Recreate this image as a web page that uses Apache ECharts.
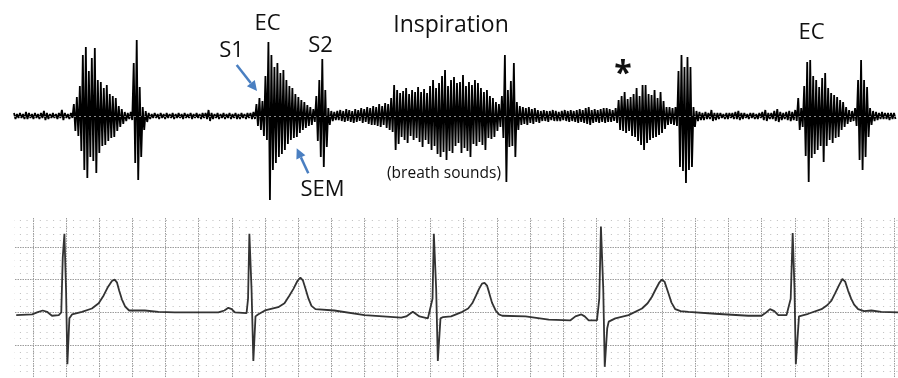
<!DOCTYPE html>
<html>
<head>
<meta charset="utf-8">
<title>Phonocardiogram and ECG</title>
<script src="https://cdn.jsdelivr.net/npm/echarts@6/dist/echarts.min.js"></script>
<style>
  html, body { margin: 0; padding: 0; background: #fff; }
  #chart { width: 898px; height: 378px; }
</style>
</head>
<body>
<div id="chart"></div>
<script>
// phonocardiogram, one sample every ~3px: peak above and below the baseline
const pcgUp = [
  3, 2, 3, 2, 4, 3, 2, 3, 2, 3, 5, 3, 2, 3, 2, 3, 6, 3, 2, 3,
  12, 19, 30, 61, 69, 45, 58, 68, 36, 34, 28, 31, 22, 20, 18, 10, 7, 4, 3, 4,
  53, 76, 29, 9, 5, 3, 2, 3, 2, 3, 2, 3, 2, 3, 2, 3, 2, 3, 2, 3,
  2, 3, 2, 3, 3, 6, 3, 2, 3, 2, 3, 2, 3, 2, 3, 2, 3, 2, 3, 3,
  4, 12, 18, 15, 40, 74, 61, 49, 53, 43, 46, 36, 30, 28, 22, 19, 16, 14, 11, 9,
  7, 20, 36, 57, 26, 8, 5, 4, 5, 6, 5, 7, 6, 5, 7, 6, 8, 7, 9, 8,
  10, 9, 12, 10, 13, 12, 18, 31, 26, 23, 25, 28, 22, 26, 24, 29, 24, 27, 23, 30,
  36, 28, 33, 40, 46, 30, 36, 39, 33, 34, 41, 30, 34, 31, 36, 33, 28, 24, 26, 20,
  18, 14, 12, 20, 61, 26, 35, 53, 14, 10, 9, 8, 9, 7, 8, 6, 5, 6, 5, 5,
  6, 5, 4, 5, 6, 5, 6, 5, 6, 7, 6, 8, 9, 6, 7, 6, 7, 8, 8, 7,
  6, 8, 16, 20, 24, 17, 19, 22, 28, 20, 31, 31, 22, 21, 26, 18, 24, 15, 9, 9,
  8, 9, 45, 61, 49, 59, 49, 9, 5, 4, 3, 4, 3, 6, 3, 3, 3, 2, 3, 3,
  3, 4, 5, 3, 3, 2, 3, 3, 2, 3, 4, 6, 3, 3, 5, 7, 4, 3, 4, 5,
  4, 6, 18, 8, 30, 54, 56, 40, 36, 29, 38, 43, 28, 23, 21, 19, 16, 14, 9, 6,
  5, 8, 36, 56, 36, 29, 8, 5, 4, 3, 4, 3, 3, 3, 3
]
const pcgDown = [
  3, 2, 2, 3, 3, 2, 3, 2, 3, 2, 4, 3, 2, 2, 3, 2, 4, 2, 3, 2,
  15, 20, 35, 54, 62, 41, 45, 57, 37, 30, 29, 25, 22, 21, 15, 11, 8, 5, 3, 4,
  47, 64, 41, 14, 6, 3, 2, 2, 3, 2, 3, 2, 2, 3, 2, 2, 3, 2, 2, 3,
  2, 2, 3, 2, 3, 5, 3, 2, 3, 2, 3, 2, 3, 2, 3, 3, 2, 3, 2, 3,
  3, 10, 14, 20, 24, 84, 54, 47, 41, 38, 34, 28, 24, 22, 21, 17, 14, 12, 10, 9,
  6, 25, 41, 51, 31, 9, 5, 4, 4, 5, 6, 5, 6, 7, 6, 5, 7, 6, 8, 9,
  9, 10, 11, 9, 12, 14, 16, 34, 28, 21, 24, 27, 20, 24, 22, 26, 31, 24, 28, 34,
  30, 38, 41, 36, 44, 35, 37, 30, 27, 37, 32, 35, 41, 28, 30, 26, 29, 34, 22, 23,
  21, 15, 11, 22, 66, 31, 30, 41, 14, 9, 8, 9, 7, 8, 6, 7, 5, 5, 6, 4,
  5, 5, 5, 4, 5, 6, 5, 6, 7, 6, 7, 8, 9, 7, 6, 7, 6, 7, 6, 6,
  5, 7, 14, 15, 17, 15, 20, 21, 25, 29, 34, 27, 24, 22, 21, 19, 17, 13, 9, 8,
  9, 10, 51, 55, 67, 54, 51, 11, 5, 4, 4, 3, 3, 5, 4, 3, 2, 3, 3, 2,
  3, 3, 4, 3, 2, 3, 2, 3, 3, 2, 4, 5, 3, 3, 5, 6, 4, 3, 4, 5,
  4, 5, 14, 11, 40, 66, 42, 38, 34, 30, 46, 30, 24, 27, 22, 21, 14, 11, 8, 6,
  5, 10, 44, 54, 41, 21, 9, 5, 4, 3, 3, 3, 4, 3, 3
]

// ECG trace: time in s (0.2 s per big square), amplitude in mV (0.5 mV per big square)
const ecgTime = [
  0.098, 0.194, 0.224, 0.258, 0.284, 0.314, 0.355, 0.370, 0.379, 0.389, 0.393, 0.399, 0.407, 0.419, 0.435,
  0.495, 0.555, 0.596, 0.626, 0.652, 0.676, 0.692, 0.706, 0.720, 0.736, 0.756, 0.780, 0.816, 0.875, 0.957, 1.055, 1.319,
  1.326, 1.355, 1.379, 1.399, 1.419, 1.489, 1.498, 1.506, 1.511, 1.519, 1.530, 1.543, 1.558,
  1.600, 1.680, 1.718, 1.748, 1.772, 1.796, 1.814, 1.829, 1.845, 1.863, 1.881, 1.905, 2.019, 2.202, 2.423,
  2.453, 2.493, 2.533, 2.584, 2.612, 2.620, 2.626, 2.634, 2.644, 2.660, 2.676,
  2.724, 2.792, 2.827, 2.852, 2.875, 2.893, 2.911, 2.926, 2.941, 2.953, 2.971, 2.993, 3.013, 3.033, 3.174, 3.314, 3.445,
  3.475, 3.511, 3.531, 3.555, 3.605, 3.619, 3.629, 3.634, 3.643, 3.652, 3.667, 3.676,
  3.716, 3.796, 3.877, 3.911, 3.937, 3.959, 3.980, 3.997, 4.013, 4.025, 4.037, 4.055, 4.078, 4.110, 4.158, 4.319, 4.519, 4.599,
  4.622, 4.650, 4.676, 4.700, 4.750, 4.775, 4.787, 4.792, 4.798, 4.806, 4.825,
  4.881, 4.961, 4.995, 5.021, 5.043, 5.068, 5.087, 5.104, 5.122, 5.140, 5.158, 5.182, 5.218, 5.262, 5.322, 5.423
]
const ecgMv = [
  -0.04, -0.03, 0.00, 0.03, 0.01, -0.05, -0.04, 0.00, 0.84, 1.20, 1.20, 0.33, -0.79, -0.09, -0.03,
  0.01, 0.06, 0.14, 0.26, 0.39, 0.48, 0.50, 0.46, 0.33, 0.20, 0.09, 0.03, 0.03, 0.03, 0.01, 0.00, 0.00,
  0.00, 0.03, 0.07, 0.05, 0.00, -0.01, 0.21, 1.20, 1.20, 0.36, -0.74, -0.06, -0.03,
  0.03, 0.08, 0.14, 0.26, 0.36, 0.48, 0.53, 0.49, 0.36, 0.21, 0.10, 0.05, 0.03, -0.04, -0.08,
  -0.06, 0.01, -0.06, -0.09, 0.21, 1.20, 1.20, 0.36, -0.74, -0.09, -0.07,
  -0.06, 0.01, 0.06, 0.14, 0.26, 0.36, 0.44, 0.45, 0.41, 0.31, 0.15, 0.03, -0.03, -0.05, -0.06, -0.11, -0.12,
  -0.06, -0.03, -0.06, -0.12, -0.12, 0.21, 1.31, 1.31, 0.36, -0.83, -0.24, -0.14,
  -0.09, -0.04, 0.06, 0.14, 0.24, 0.35, 0.45, 0.50, 0.47, 0.38, 0.29, 0.15, 0.05, 0.02, 0.01, -0.02, -0.05, -0.05,
  -0.01, 0.05, 0.02, -0.04, -0.04, 0.21, 1.21, 1.21, 0.36, -0.79, -0.06,
  -0.02, 0.05, 0.11, 0.18, 0.29, 0.42, 0.51, 0.47, 0.33, 0.21, 0.12, 0.05, 0.02, 0.03, 0.01, 0.00
]

const labelFont = '22px "Open Sans", sans-serif'
const arrowBlue = '#4a7fc1'

const chart = echarts.init(document.getElementById('chart'))

// each sample is drawn as a stroke up then a stroke down
const pcgLine = []
pcgUp.forEach((u, i) => {
  pcgLine.push([i, u])
  pcgLine.push([i + 0.5, -pcgDown[i]])
})
const ecgLine = ecgTime.map((t, i) => [t, ecgMv[i]])

const label = (text, x, y, font) => ({
  type: 'text',
  x: x,
  y: y,
  z: 110,
  silent: true,
  style: { text: text, font: font || labelFont, fill: '#111', align: 'center', verticalAlign: 'middle' }
})

const arrow = (tail, base, head) => ({
  type: 'group',
  z: 110,
  silent: true,
  children: [
    {
      type: 'line',
      shape: { x1: tail[0], y1: tail[1], x2: base[0], y2: base[1] },
      style: { stroke: arrowBlue, lineWidth: 2.5 }
    },
    {
      type: 'polygon',
      shape: { points: head },
      style: { fill: arrowBlue }
    }
  ]
})

const option = {
  animation: false,
  backgroundColor: '#fff',
  grid: [
    { left: 14, right: 1, top: 16, height: 200 },
    { left: -2.2, right: 0, top: 218, bottom: -2.6 }
  ],
  xAxis: [
    { type: 'value', gridIndex: 0, min: 0, max: 295, show: false },
    {
      type: 'value',
      gridIndex: 1,
      min: 0,
      max: 5.423,
      interval: 0.2,
      axisLine: { show: false },
      axisTick: { show: false },
      axisLabel: { show: false },
      splitLine: {
        show: true,
        showMinLine: false,
        showMaxLine: false,
        lineStyle: { color: '#9c9c9c', width: 1, type: [1.5, 1] }
      }
    }
  ],
  yAxis: [
    { type: 'value', gridIndex: 0, min: -100, max: 100, show: false },
    {
      type: 'value',
      gridIndex: 1,
      min: -1,
      max: 1.441,
      interval: 0.5,
      axisLine: { show: false },
      axisTick: { show: false },
      axisLabel: { show: false },
      splitLine: {
        show: true,
        showMinLine: false,
        showMaxLine: false,
        lineStyle: { color: '#9c9c9c', width: 1, type: [1.5, 1] }
      },
      minorTick: { show: false, splitNumber: 5 },
      minorSplitLine: {
        show: true,
        lineStyle: { color: '#bdbdbd', width: 1, type: [1, 5.64] }
      }
    }
  ],
  series: [
    {
      name: 'PCG',
      type: 'line',
      xAxisIndex: 0,
      yAxisIndex: 0,
      data: pcgLine,
      symbol: 'none',
      sampling: null,
      lineStyle: { color: '#000', width: 1.8 },
      areaStyle: { color: '#000', opacity: 1 },
      markLine: {
        silent: true,
        symbol: 'none',
        label: { show: false },
        lineStyle: { color: '#fff', width: 1, type: [2, 3], opacity: 0.55 },
        data: [{ yAxis: 0 }]
      }
    },
    {
      name: 'ECG',
      type: 'line',
      xAxisIndex: 1,
      yAxisIndex: 1,
      data: ecgLine,
      symbol: 'none',
      lineStyle: { color: '#333', width: 1.8 }
    }
  ],
  graphic: [
    // white margin left of the ECG paper
    { type: 'rect', left: 0, top: 214, z: 100, silent: true, shape: { width: 14, height: 164 }, style: { fill: '#fff' } },
    label('EC', 267.5, 24),
    label('S1', 231.5, 51),
    label('S2', 320.5, 45.5),
    label('Inspiration', 451, 25, '23px "Open Sans", sans-serif'),
    label('SEM', 322.5, 190),
    label('(breath sounds)', 444, 174, '15.5px "Open Sans", sans-serif'),
    label('*', 623, 75, 'bold 32px "Open Sans", sans-serif'),
    label('EC', 811.5, 33),
    arrow([236.7, 65], [250.8, 83.1], [[257, 91], [246.9, 86.2], [254.8, 80]]),
    arrow([308.3, 173.3], [300.9, 157.4], [[296.7, 148.3], [305.4, 155.3], [296.4, 159.5]])
  ]
}

chart.setOption(option)
</script>
</body>
</html>
